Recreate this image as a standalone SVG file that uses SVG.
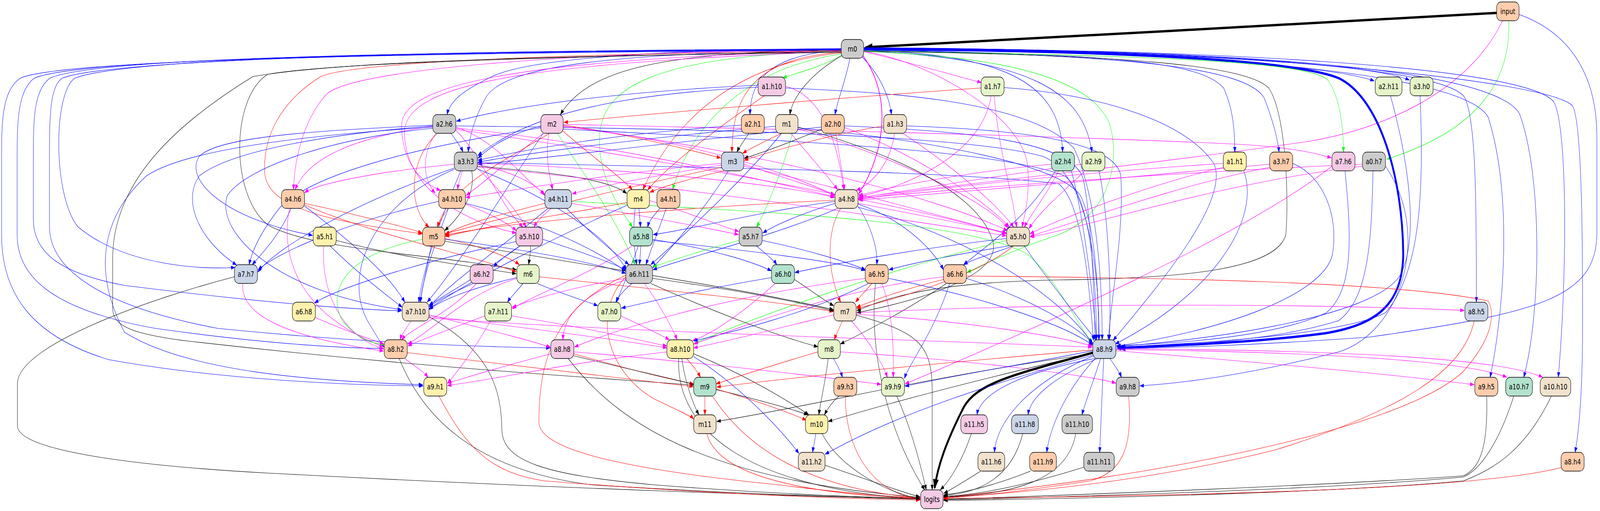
<svg xmlns="http://www.w3.org/2000/svg" width="5139" height="1307" viewBox="0 0 5139 1307" preserveAspectRatio="none">
<style>
:root{width:100vw;height:100vh;overflow:hidden}
.e path{fill:none;stroke-width:1.1}
.b{stroke:#00f;marker-end:url(#ab)}
.m{stroke:#f0f;marker-end:url(#am)}
.r{stroke:#f00;marker-end:url(#ar)}
.g{stroke:#0f0;marker-end:url(#ag)}
.k{stroke:#000;marker-end:url(#ak)}
.e path.kT{stroke:#000;stroke-width:6;marker-end:url(#akT)}
.e path.bT{stroke:#00f;stroke-width:6;marker-end:url(#abT)}
.e path.m2{stroke:#f0f;stroke-width:2.2;marker-end:url(#am)}
.n rect{stroke:#000;stroke-width:1.3}
.n text{font-family:"DejaVu Sans",sans-serif;font-size:18.67px;text-anchor:middle;fill:#000}
.c0{fill:#cccccc}.c1{fill:#f4cae4}.c2{fill:#fdcdac}.c3{fill:#f1e2cc}.c4{fill:#cbd5e8}.c5{fill:#e6f5c9}.c6{fill:#b3e2cd}.c7{fill:#fff2ae}
</style>
<defs>
<marker id="ab" viewBox="0 0 14 10" markerWidth="14" markerHeight="10" refX="13" refY="5" orient="auto" markerUnits="userSpaceOnUse"><path d="M0,0L14,5L0,10z" fill="#00f"/></marker>
<marker id="am" viewBox="0 0 14 10" markerWidth="14" markerHeight="10" refX="13" refY="5" orient="auto" markerUnits="userSpaceOnUse"><path d="M0,0L14,5L0,10z" fill="#f0f"/></marker>
<marker id="ar" viewBox="0 0 14 10" markerWidth="14" markerHeight="10" refX="13" refY="5" orient="auto" markerUnits="userSpaceOnUse"><path d="M0,0L14,5L0,10z" fill="#f00"/></marker>
<marker id="ag" viewBox="0 0 14 10" markerWidth="14" markerHeight="10" refX="13" refY="5" orient="auto" markerUnits="userSpaceOnUse"><path d="M0,0L14,5L0,10z" fill="#0f0"/></marker>
<marker id="ak" viewBox="0 0 14 10" markerWidth="14" markerHeight="10" refX="13" refY="5" orient="auto" markerUnits="userSpaceOnUse"><path d="M0,0L14,5L0,10z" fill="#000"/></marker>
<marker id="akT" viewBox="0 0 14 10" markerWidth="26" markerHeight="19" refX="12" refY="5" orient="auto" markerUnits="userSpaceOnUse"><path d="M0,0L14,5L0,10z" fill="#000"/></marker>
<marker id="abT" viewBox="0 0 14 10" markerWidth="26" markerHeight="19" refX="12" refY="5" orient="auto" markerUnits="userSpaceOnUse"><path d="M0,0L14,5L0,10z" fill="#00f"/></marker>
</defs>
<rect width="5139" height="1307" fill="#fff"/>
<g id="connectors" class="e">
<path class="kT" d="M4807,33 C4200,60 3400,95 2780,121"/>
<path class="g" d="M4846,53 C4852,200 4760,330 4454,407"/>
<path class="m" d="M4826,53 C4720,230 4450,330 4200,362 C3700,420 3100,470 2760,505"/>
<path class="b" d="M4879,37 C5030,80 5129,180 5129,350 L5129,600 C5125,760 4950,800 4400,862 C4000,885 3750,889 3588,892"/>
<path class="g" d="M2708,140 C2640,170 2570,185 2514,199"/>
<path class="m" d="M2774,132 C2900,155 3050,190 3152,211"/>
<path class="k" d="M2706,141 C2600,190 2545,250 2537,293"/>
<path class="b" d="M2703,128 C2480,140 2410,200 2409,293"/>
<path class="b" d="M2730,149 C2715,210 2690,255 2682,293"/>
<path class="b" d="M2768,145 C2825,190 2856,245 2863,293"/>
<path class="m2" d="M2772,143 C2860,240 2850,380 2758,496"/>
<path class="b" d="M2702,124 C2100,128 1680,150 1570,200 C1480,235 1445,260 1436,293"/>
<path class="k" d="M2702,128 C2200,135 1900,160 1800,293"/>
<path class="b" d="M2702,127 C2000,135 1620,165 1560,250 C1525,300 1507,350 1504,389"/>
<path class="r" d="M2703,133 C2450,150 2352,220 2351,389"/>
<path class="r" d="M2703,135 C2400,160 2180,280 2065,485"/>
<path class="g" d="M2704,138 C2420,170 2230,300 2160,485"/>
<path class="g" d="M2703,130 C2100,145 1925,220 1925,360 C1925,450 1985,530 2032,581"/>
<path class="m" d="M2702,126 C1800,134 1140,178 1050,240 C980,300 945,400 943,485"/>
<path class="m" d="M2702,129 C1800,150 1290,200 1290,320 C1290,420 1360,470 1415,487"/>
<path class="m" d="M2702,131 C1800,160 1320,200 1300,330 C1290,460 1450,560 1658,596"/>
<path class="r" d="M2702,130 C1500,140 1100,170 1030,196 C900,260 845,350 850,440 C855,540 1100,570 1357,598"/>
<path class="k" d="M2702,132 C1400,150 1000,170 860,190 C740,250 740,500 860,575 C1000,640 1400,650 1659,690"/>
<path class="k" d="M2702,134 C1400,145 1000,170 812,196 C600,300 362,450 362,660 L362,790 C362,835 430,855 600,872 C1400,945 2000,970 2227,985"/>
<path class="b" d="M2702,125 C1300,130 400,150 240,200 C170,240 170,500 250,580 C400,680 650,690 755,684"/>
<path class="b" d="M2702,126 C1300,132 300,148 160,200 C110,230 107,300 107,400 L107,560 C107,650 200,700 400,730 C800,770 1100,790 1290,795"/>
<path class="b" d="M2702,127 C1300,134 250,150 110,200 C60,230 55,300 55,400 L55,600 C55,700 150,790 500,840 C900,885 1150,891 1232,891"/>
<path class="b" d="M2702,128 C1300,136 200,152 65,200 C10,230 5,300 5,400 L5,600 C5,750 100,860 350,920 C700,970 1100,985 1359,987"/>
<path class="b" d="M2702,126 C1400,131 350,152 200,200 C160,220 159,300 159,400 L159,580 C159,680 300,780 700,840 C1200,880 1600,888 1767,890"/>
<path class="bT" d="M2776,126 C3500,128 4150,150 4300,200 C4430,250 4505,450 4507,650 C4505,780 4420,830 4260,852 C4000,880 3700,885 3592,890"/>
<path class="b" d="M2775,123 C3500,128 4250,160 4414,207"/>
<path class="b" d="M2775,122 C3700,126 4400,160 4527,205"/>
<path class="b" d="M2775,128 C3200,140 3405,200 3413,389"/>
<path class="b" d="M2775,130 C3300,150 3480,230 3507,389"/>
<path class="b" d="M2775,127 C3500,140 3850,150 3930,225 C3962,280 3966,340 3966,389"/>
<path class="b" d="M2775,128 C3600,140 4000,170 4060,250 C4095,320 4106,370 4108,389"/>
<path class="g" d="M2775,130 C3600,142 4200,152 4265,205 C4305,250 4315,330 4315,389"/>
<path class="b" d="M2775,124 C3800,130 4640,165 4705,250 C4740,310 4742,500 4742,773"/>
<path class="b" d="M2775,124 C3800,129 4700,180 4780,300 C4860,500 4830,800 4786,965"/>
<path class="b" d="M2775,123 C3800,127 4780,160 4880,290 C4955,450 4950,800 4894,965"/>
<path class="b" d="M2775,123 C3900,125 4900,170 4990,260 C5035,320 5034,700 5005,965"/>
<path class="b" d="M2775,122 C3900,123 4960,200 5050,270 C5085,310 5083,700 5083,850 C5082,1000 5072,1100 5059,1157"/>
<path class="k" d="M2775,131 C3600,140 4000,165 4075,225 C4130,290 4140,500 4130,600 C4100,690 3800,712 3400,716 C3000,722 2850,760 2752,795"/>
<path class="g" d="M2775,132 C3300,145 3520,220 3565,320 C3600,420 3560,550 3400,600 C3250,640 3150,680 3106,697"/>
<path class="m" d="M2774,131 C3000,160 3280,300 3300,420 C3310,500 3290,550 3283,581"/>
<path class="b" d="M2435,218 C2100,230 1700,260 1466,310"/>
<path class="b" d="M2435,223 C2000,240 1700,290 1535,398"/>
<path class="r" d="M2455,245 C2300,330 2150,420 2080,486"/>
<path class="m" d="M2523,221 C2600,235 2680,300 2710,485"/>
<path class="b" d="M2523,225 C2800,235 3300,250 3450,380 C3520,500 3540,700 3540,869"/>
<path class="r" d="M3151,225 C2700,250 2100,290 1811,313"/>
<path class="m" d="M3183,245 C3160,380 2950,470 2758,503"/>
<path class="m" d="M3193,245 C3210,400 3255,500 3265,581"/>
<path class="b" d="M3225,224 C3500,240 3800,300 3900,420 C3950,520 3700,750 3575,871"/>
<path class="b" d="M4466,245 C4520,400 4560,600 4500,700 C4420,820 3800,875 3587,886"/>
<path class="b" d="M4561,245 C4575,500 4560,700 4450,800 C4300,860 3800,880 3587,888"/>
<path class="b" d="M1449,341 C1465,360 1480,375 1487,389"/>
<path class="m" d="M1390,323 C1150,350 990,400 948,485"/>
<path class="m" d="M1400,341 C1350,400 1360,460 1398,494"/>
<path class="m" d="M1464,325 C1600,360 1680,460 1749,495"/>
<path class="m" d="M1464,328 C1900,360 2400,450 2680,503"/>
<path class="m" d="M1464,331 C2000,390 2900,520 3232,598"/>
<path class="r" d="M1405,341 C1300,420 1320,540 1378,581"/>
<path class="b" d="M1390,320 C1000,335 700,350 640,400 C590,460 720,560 1004,602"/>
<path class="b" d="M1390,322 C1100,340 750,380 640,450 C580,520 650,620 760,678"/>
<path class="b" d="M1390,325 C1000,345 600,380 470,450 C320,560 300,700 400,850 C600,950 1000,975 1358,984"/>
<path class="b" d="M1390,328 C1100,350 800,420 730,500 C690,600 900,750 1290,792"/>
<path class="m" d="M1464,333 C1550,400 1600,520 1680,581"/>
<path class="b" d="M1464,322 C2300,330 3100,345 3350,400 C3500,450 3530,700 3530,869"/>
<path class="b" d="M1737,322 C1650,340 1580,370 1535,405"/>
<path class="r" d="M1809,320 C2000,340 2200,380 2315,404"/>
<path class="m" d="M1745,341 C1650,400 1550,470 1497,500"/>
<path class="m" d="M1763,341 C1750,400 1765,450 1775,485"/>
<path class="r" d="M1808,335 C1900,400 1990,450 2031,485"/>
<path class="m" d="M1809,322 C2200,360 2500,430 2682,500"/>
<path class="m" d="M1809,324 C2400,380 3000,500 3236,590"/>
<path class="r" d="M1765,341 C1600,420 1440,480 1405,581"/>
<path class="g" d="M1790,341 C1880,450 1980,560 2040,677"/>
<path class="m" d="M1809,318 C2500,330 3500,350 4000,370 C4150,378 4230,392 4276,404"/>
<path class="b" d="M1737,327 C1300,380 1000,450 900,530 C840,590 810,640 800,677"/>
<path class="b" d="M1809,330 C2500,360 3200,380 3420,450 C3500,500 3520,700 3522,869"/>
<path class="b" d="M1745,341 C1650,450 1500,650 1372,773"/>
<path class="k" d="M2405,341 C2390,360 2375,375 2367,389"/>
<path class="b" d="M2381,320 C2000,340 1700,380 1535,410"/>
<path class="r" d="M2510,341 C2460,360 2410,380 2385,392"/>
<path class="b" d="M2491,323 C2100,350 1700,390 1535,415"/>
<path class="m" d="M2540,341 C2600,400 2660,450 2690,485"/>
<path class="m" d="M2563,330 C2800,380 3150,500 3238,583"/>
<path class="b" d="M2563,327 C3000,360 3400,420 3470,500 C3520,580 3528,750 3529,869"/>
<path class="k" d="M2563,325 C2900,400 3150,500 3190,620 C3210,700 3000,760 2752,800"/>
<path class="g" d="M2545,341 C2520,420 2460,540 2430,581"/>
<path class="b" d="M2510,341 C2400,450 2200,600 2090,677"/>
<path class="k" d="M2640,330 C2550,360 2450,390 2390,405"/>
<path class="b" d="M2638,325 C2200,360 1700,410 1535,420"/>
<path class="m" d="M2685,341 C2695,400 2708,450 2712,485"/>
<path class="m" d="M2712,326 C2900,380 3150,500 3242,581"/>
<path class="b" d="M2712,322 C3100,335 3450,360 3480,460 C3505,560 3515,750 3517,869"/>
<path class="r" d="M2838,322 C2700,340 2500,380 2390,410"/>
<path class="m" d="M2873,341 C2860,420 2800,470 2750,487"/>
<path class="m" d="M2900,341 C3050,420 3200,520 3256,581"/>
<path class="b" d="M2912,322 C3200,330 3580,350 3600,450 C3610,600 3570,750 3560,869"/>
<path class="m" d="M1459,420 C1200,440 1020,470 978,493"/>
<path class="m" d="M1485,437 C1478,455 1472,470 1470,485"/>
<path class="m" d="M1533,420 C1650,440 1720,470 1750,500"/>
<path class="k" d="M1533,425 C1750,440 1950,455 2013,495"/>
<path class="m" d="M1533,418 C2000,430 2500,470 2681,505"/>
<path class="m" d="M1533,427 C2100,470 2900,560 3232,603"/>
<path class="k" d="M1515,437 C1530,500 1470,560 1428,590"/>
<path class="m" d="M1533,430 C1600,480 1660,540 1690,581"/>
<path class="b" d="M1459,430 C1200,500 900,620 828,696"/>
<path class="b" d="M1480,437 C1420,550 1360,680 1345,773"/>
<path class="b" d="M1459,433 C1200,520 1100,700 1180,820 C1210,860 1225,880 1234,888"/>
<path class="b" d="M1533,432 C1750,500 1950,600 2012,690"/>
<path class="b" d="M1533,416 C2400,430 3100,440 3400,470 C3480,520 3500,750 3512,871"/>
<path class="m" d="M2317,418 C2000,440 1700,480 1496,505"/>
<path class="m" d="M2317,422 C2100,450 1900,480 1838,496"/>
<path class="r" d="M2325,437 C2200,460 2120,480 2087,492"/>
<path class="m" d="M2389,420 C2500,450 2620,480 2681,498"/>
<path class="m" d="M2389,425 C2700,480 3000,550 3233,596"/>
<path class="r" d="M2317,428 C2000,480 1600,560 1430,598"/>
<path class="b" d="M2340,437 C2250,550 2150,640 2096,685"/>
<path class="m" d="M3377,420 C3100,440 2850,480 2758,500"/>
<path class="m" d="M3400,437 C3360,500 3310,550 3290,581"/>
<path class="b" d="M3441,437 C3480,550 3510,750 3522,869"/>
<path class="b" d="M3390,437 C3300,560 3150,640 3095,677"/>
<path class="m" d="M3475,420 C3200,450 2900,490 2758,506"/>
<path class="m" d="M3485,437 C3400,500 3330,550 3305,585"/>
<path class="b" d="M3530,437 C3560,550 3570,750 3563,869"/>
<path class="m" d="M3929,418 C3500,440 3000,480 2758,510"/>
<path class="m" d="M3929,428 C3700,470 3400,560 3308,598"/>
<path class="b" d="M3995,437 C4050,560 3900,750 3582,880"/>
<path class="m" d="M4078,420 C3700,450 3100,490 2758,512"/>
<path class="m" d="M4078,428 C3800,470 3450,570 3309,604"/>
<path class="b" d="M4152,418 C4250,450 4300,550 4280,650 C4250,760 3900,850 3586,885"/>
<path class="b" d="M4320,437 C4340,600 4350,740 4260,800 C4100,860 3800,878 3587,884"/>
<path class="m" d="M4278,425 C4000,600 3300,850 2907,982"/>
<path class="m" d="M4376,420 C3800,440 3100,480 2758,508"/>
<path class="m" d="M4376,425 C3900,470 3500,580 3309,606"/>
<path class="b" d="M4410,437 C4405,600 4400,760 4300,820 C4100,870 3800,885 3587,887"/>
<path class="b" d="M4450,425 C4600,600 4500,850 4300,900 C4000,960 3800,980 3661,987"/>
<path class="r" d="M978,520 C1150,550 1300,580 1356,596"/>
<path class="b" d="M935,533 C900,600 840,650 810,677"/>
<path class="b" d="M978,527 C1100,600 1250,700 1300,773"/>
<path class="r" d="M978,524 C1200,600 1500,650 1658,695"/>
<path class="m" d="M930,533 C900,650 950,800 1232,887"/>
<path class="r" d="M1440,533 C1425,550 1412,565 1405,581"/>
<path class="m" d="M1495,522 C1570,545 1630,570 1658,590"/>
<path class="b" d="M1409,515 C1150,560 900,640 829,690"/>
<path class="b" d="M1440,533 C1400,620 1360,700 1350,773"/>
<path class="b" d="M1495,520 C1700,560 1900,630 2010,694"/>
<path class="m" d="M1770,533 C1745,550 1725,565 1715,581"/>
<path class="m" d="M1836,520 C2050,550 2250,580 2372,600"/>
<path class="r" d="M1750,520 C1600,550 1480,575 1430,600"/>
<path class="b" d="M1820,533 C1900,600 1980,650 2020,677"/>
<path class="b" d="M1760,533 C1600,640 1450,720 1378,785"/>
<path class="g" d="M1836,515 C2400,540 3100,560 3300,650 C3400,720 3450,820 3508,876"/>
<path class="b" d="M2052,533 C2054,550 2056,565 2057,581"/>
<path class="m" d="M2086,513 C2200,540 2320,580 2373,592"/>
<path class="r" d="M2014,518 C1800,550 1550,580 1430,605"/>
<path class="b" d="M2040,533 C2030,600 2040,650 2045,677"/>
<path class="b" d="M2014,525 C1800,600 1500,720 1378,790"/>
<path class="b" d="M2120,533 C2100,550 2085,565 2080,581"/>
<path class="b" d="M2140,533 C2110,600 2085,650 2075,677"/>
<path class="b" d="M2682,515 C2450,540 2200,590 2098,600"/>
<path class="b" d="M2682,520 C2600,540 2500,570 2450,596"/>
<path class="m" d="M2756,520 C2950,550 3150,580 3232,596"/>
<path class="r" d="M2682,512 C2200,530 1600,570 1430,602"/>
<path class="b" d="M2690,533 C2500,600 2200,660 2097,690"/>
<path class="b" d="M2756,527 C2800,580 2820,640 2816,677"/>
<path class="b" d="M2756,522 C2900,560 3000,640 3030,690"/>
<path class="r" d="M2700,533 C2650,600 2660,700 2700,773"/>
<path class="b" d="M2756,530 C3100,600 3400,750 3510,880"/>
<path class="k" d="M1080,615 C1300,660 1500,680 1658,700"/>
<path class="b" d="M1060,629 C1150,700 1250,760 1292,786"/>
<path class="m" d="M1040,629 C1030,750 1100,860 1232,893"/>
<path class="r" d="M1429,610 C1550,630 1640,660 1668,677"/>
<path class="b" d="M1429,612 C1700,640 1900,670 2010,699"/>
<path class="b" d="M1385,629 C1370,690 1355,740 1350,773"/>
<path class="g" d="M1357,612 C1100,650 1050,750 1100,820 C1150,870 1200,880 1236,880"/>
<path class="k" d="M1429,617 C1900,680 2400,740 2677,792"/>
<path class="b" d="M1670,629 C1630,650 1600,670 1585,683"/>
<path class="k" d="M1705,629 C1703,650 1700,665 1698,677"/>
<path class="b" d="M1743,612 C1850,640 1960,670 2010,690"/>
<path class="b" d="M1670,629 C1550,700 1420,760 1378,780"/>
<path class="b" d="M1657,618 C1400,660 1100,730 1010,775"/>
<path class="b" d="M2058,629 C2057,650 2055,665 2054,677"/>
<path class="b" d="M2096,612 C2300,640 2420,670 2478,693"/>
<path class="b" d="M2096,615 C2400,640 2700,670 2779,692"/>
<path class="m" d="M2030,629 C1900,700 1700,760 1645,790"/>
<path class="b" d="M2050,629 C2020,700 1990,750 1980,773"/>
<path class="g" d="M2374,615 C2250,640 2150,670 2097,682"/>
<path class="b" d="M2448,615 C2600,640 2720,670 2780,690"/>
<path class="b" d="M2430,629 C2460,650 2485,665 2495,677"/>
<path class="b" d="M3233,610 C2900,640 2650,680 2553,697"/>
<path class="b" d="M3240,629 C3000,660 2900,680 2855,690"/>
<path class="b" d="M3255,629 C3180,650 3120,665 3095,677"/>
<path class="r" d="M3255,629 C3150,700 2900,760 2752,789"/>
<path class="g" d="M3233,615 C2800,700 2400,820 2230,878"/>
<path class="b" d="M3290,629 C3350,700 3450,800 3520,869"/>
<path class="m" d="M780,725 C770,800 900,860 1232,898"/>
<path class="k" d="M753,708 C500,760 60,880 56,980 L56,1090 C60,1150 400,1190 860,1210 C1800,1250 2600,1270 2955,1276"/>
<path class="m" d="M1530,725 C1450,800 1320,840 1290,869"/>
<path class="b" d="M1520,725 C1450,750 1400,770 1378,785"/>
<path class="b" d="M1680,725 C1660,745 1640,760 1630,773"/>
<path class="b" d="M1660,710 C1550,730 1430,760 1378,792"/>
<path class="m" d="M1660,712 C1500,750 1380,850 1310,880"/>
<path class="r" d="M1732,708 C2100,740 2500,770 2677,797"/>
<path class="b" d="M1725,725 C1800,750 1880,770 1920,782"/>
<path class="m" d="M2010,712 C1800,740 1700,770 1645,786"/>
<path class="b" d="M2030,725 C2000,745 1985,760 1978,773"/>
<path class="m" d="M2070,725 C2120,780 2160,840 2175,869"/>
<path class="m" d="M2010,715 C1850,760 1810,820 1808,869"/>
<path class="r" d="M2010,708 C1900,800 1950,950 2100,1020 C2180,1050 2220,1065 2228,1072"/>
<path class="r" d="M2010,704 C1800,780 1730,900 1731,1080 C1731,1150 2000,1200 2500,1240 C2700,1260 2850,1270 2955,1274"/>
<path class="k" d="M2096,712 C2350,740 2550,770 2678,795"/>
<path class="k" d="M2090,725 C2300,800 2500,860 2627,887"/>
<path class="b" d="M2478,710 C2250,740 2100,770 1996,788"/>
<path class="k" d="M2552,715 C2600,740 2650,770 2678,782"/>
<path class="m" d="M2490,725 C2400,790 2300,850 2225,871"/>
<path class="r" d="M2800,725 C2780,745 2760,760 2748,773"/>
<path class="m" d="M2779,712 C2300,760 1950,850 1845,888"/>
<path class="b" d="M2790,725 C2600,800 2350,850 2228,872"/>
<path class="m" d="M2832,725 C2870,800 2870,900 2869,965"/>
<path class="k" d="M2812,725 C2790,900 2850,1100 2970,1253"/>
<path class="b" d="M2853,712 C3100,750 3400,820 3510,883"/>
<path class="r" d="M3030,715 C2900,740 2800,770 2751,786"/>
<path class="k" d="M3040,725 C2900,800 2750,860 2699,880"/>
<path class="m" d="M3030,708 C2700,740 2400,830 2228,880"/>
<path class="r" d="M3104,706 C3700,710 4500,720 4780,770 C4800,800 4800,860 4700,950 C4500,1100 3700,1220 3031,1272"/>
<path class="b" d="M3050,725 C3000,850 2920,930 2905,968"/>
<path class="b" d="M3104,712 C3300,760 3450,830 3510,878"/>
<path class="m" d="M1013,812 C1120,850 1200,870 1233,880"/>
<path class="m" d="M1320,821 C1305,840 1290,855 1285,869"/>
<path class="m" d="M1378,805 C1550,840 1700,870 1768,888"/>
<path class="m" d="M1378,808 C1700,840 2000,870 2142,890"/>
<path class="k" d="M1378,810 C1580,900 1610,1000 1612,1100 C1615,1180 1750,1215 2100,1240 C2500,1265 2800,1272 2955,1276"/>
<path class="m" d="M1378,813 C2000,850 3000,870 3508,888"/>
<path class="m" d="M1557,808 C1450,840 1350,870 1310,885"/>
<path class="m" d="M1643,808 C1900,840 2050,870 2142,885"/>
<path class="m" d="M1575,821 C1520,900 1460,960 1437,980"/>
<path class="m" d="M1994,808 C2080,840 2130,860 2150,869"/>
<path class="r" d="M2706,821 C2695,840 2685,855 2680,869"/>
<path class="m" d="M2678,805 C2500,840 2350,870 2228,890"/>
<path class="m" d="M2750,800 C3500,770 4300,780 4703,794"/>
<path class="m" d="M2735,821 C2800,880 2840,940 2850,965"/>
<path class="k" d="M2750,806 C2950,850 2994,880 2994,1000 L2994,1253"/>
<path class="m" d="M2750,804 C3100,820 3400,860 3508,885"/>
<path class="r" d="M4735,821 C4700,950 4500,1050 4100,1150 C3700,1230 3300,1260 3031,1273"/>
<path class="m" d="M1300,917 C1330,935 1360,950 1375,965"/>
<path class="k" d="M1282,917 C1350,1050 1500,1200 1900,1240 C2400,1265 2750,1272 2955,1277"/>
<path class="r" d="M1308,902 C1700,940 2050,970 2227,989"/>
<path class="m" d="M1769,905 C1600,940 1500,965 1437,980"/>
<path class="r" d="M1843,905 C2000,940 2150,970 2228,982"/>
<path class="k" d="M1825,917 C2000,1100 2300,1230 2955,1272"/>
<path class="k" d="M1843,910 C2100,960 2450,1020 2595,1061"/>
<path class="m" d="M1843,900 C2300,930 2700,970 2830,983"/>
<path class="r" d="M2205,917 C2225,935 2240,950 2250,965"/>
<path class="k" d="M2190,917 C2200,980 2230,1040 2245,1061"/>
<path class="k" d="M2180,917 C2170,1100 2400,1250 2955,1276"/>
<path class="m" d="M2142,900 C1800,930 1600,970 1437,986"/>
<path class="k" d="M2228,905 C2400,960 2540,1030 2598,1061"/>
<path class="b" d="M2228,912 C2400,1000 2530,1120 2566,1160"/>
<path class="b" d="M2677,917 C2690,935 2700,950 2706,965"/>
<path class="k" d="M2660,917 C2650,980 2635,1030 2630,1061"/>
<path class="r" d="M2627,900 C2500,930 2380,960 2300,982"/>
<path class="m" d="M2699,900 C3100,920 3500,960 3584,980"/>
<path class="kT" d="M3510,902 C3250,960 3130,980 3090,1050 C3040,1130 3012,1190 3002,1248"/>
<path class="b" d="M3565,917 C3580,935 3595,950 3602,965"/>
<path class="b" d="M3515,917 C3300,950 3150,1000 3138,1061"/>
<path class="b" d="M3525,917 C3400,960 3310,1010 3302,1061"/>
<path class="b" d="M3535,917 C3510,980 3485,1030 3475,1061"/>
<path class="b" d="M3512,910 C3300,980 3200,1080 3194,1157"/>
<path class="b" d="M3520,915 C3420,1000 3370,1100 3362,1157"/>
<path class="b" d="M3545,917 C3540,1000 3535,1100 3532,1157"/>
<path class="b" d="M3510,908 C3200,980 2900,1050 2650,1162"/>
<path class="r" d="M3510,895 C3000,930 2600,960 2302,990"/>
<path class="k" d="M3510,905 C3000,960 2600,1040 2302,1078"/>
<path class="k" d="M3510,903 C3200,960 2900,1020 2660,1078"/>
<path class="b" d="M3510,897 C3300,930 3000,970 2907,988"/>
<path class="m" d="M3584,897 C4100,930 4500,960 4735,984"/>
<path class="m" d="M3584,894 C4200,900 4700,920 4840,965"/>
<path class="m" d="M3584,892 C4200,895 4800,910 4955,965"/>
<path class="r" d="M1410,1013 C1500,1150 1580,1210 1750,1230 C2300,1265 2700,1275 2955,1279"/>
<path class="r" d="M2264,1013 L2264,1061"/>
<path class="r" d="M2288,1013 C2400,1150 2600,1250 2955,1274"/>
<path class="r" d="M2300,995 C2450,1030 2550,1060 2590,1075"/>
<path class="k" d="M2695,1013 C2670,1030 2655,1050 2648,1061"/>
<path class="r" d="M2715,1013 C2715,1150 2800,1260 2955,1277"/>
<path class="k" d="M2880,1013 C2930,1100 2960,1200 2975,1253"/>
<path class="r" d="M3625,1013 C3640,1150 3600,1210 3500,1230 C3300,1255 3150,1268 3031,1274"/>
<path class="k" d="M4775,1013 C4780,1150 4750,1200 4700,1217 C4300,1240 3500,1265 3031,1277"/>
<path class="k" d="M4862,1013 C4820,1120 4760,1200 4700,1220 C4300,1250 3500,1270 3031,1278"/>
<path class="k" d="M4983,1013 C4900,1150 4800,1200 4700,1230 C4300,1260 3500,1275 3031,1280"/>
<path class="r" d="M2270,1109 C2300,1200 2500,1260 2955,1276"/>
<path class="b" d="M2620,1109 C2617,1130 2612,1145 2610,1157"/>
<path class="k" d="M2640,1109 C2700,1200 2850,1260 2955,1276"/>
<path class="k" d="M3120,1109 C3090,1180 3050,1230 3020,1253"/>
<path class="k" d="M3285,1109 C3250,1220 3150,1260 3031,1268"/>
<path class="k" d="M3455,1109 C3430,1230 3250,1265 3031,1271"/>
<path class="k" d="M2650,1190 C2800,1230 2900,1260 2955,1271"/>
<path class="k" d="M3150,1205 C3100,1230 3060,1250 3031,1262"/>
<path class="k" d="M3310,1205 C3200,1240 3100,1260 3031,1266"/>
<path class="k" d="M3481,1195 C3300,1240 3150,1265 3031,1270"/>
<path class="r" d="M5014,1196 C4800,1240 4200,1265 3031,1275"/>
</g>
<g id="nodes" class="n">
<g id="n_input"><rect class="c2" x="4807" y="5" width="72" height="48" rx="14"/><text x="4843" y="36">input</text></g>
<g id="n_m0"><rect class="c0" x="2702" y="101" width="72" height="48" rx="14"/><text x="2738" y="132">m0</text></g>
<g id="n_a1_h10"><rect class="c1" x="2435" y="197" width="88" height="48" rx="14"/><text x="2479" y="228">a1.h10</text></g>
<g id="n_a1_h7"><rect class="c5" x="3151" y="197" width="74" height="48" rx="14"/><text x="3188" y="228">a1.h7</text></g>
<g id="n_a2_h11"><rect class="c5" x="4417" y="197" width="86" height="48" rx="14"/><text x="4460" y="228">a2.h11</text></g>
<g id="n_a3_h0"><rect class="c5" x="4529" y="197" width="74" height="48" rx="14"/><text x="4566" y="228">a3.h0</text></g>
<g id="n_a2_h6"><rect class="c0" x="1390" y="293" width="74" height="48" rx="14"/><text x="1427" y="324">a2.h6</text></g>
<g id="n_m2"><rect class="c1" x="1737" y="293" width="72" height="48" rx="14"/><text x="1773" y="324">m2</text></g>
<g id="n_a2_h1"><rect class="c2" x="2381" y="293" width="74" height="48" rx="14"/><text x="2418" y="324">a2.h1</text></g>
<g id="n_m1"><rect class="c3" x="2491" y="293" width="72" height="48" rx="14"/><text x="2527" y="324">m1</text></g>
<g id="n_a2_h0"><rect class="c2" x="2638" y="293" width="74" height="48" rx="14"/><text x="2675" y="324">a2.h0</text></g>
<g id="n_a1_h3"><rect class="c3" x="2838" y="293" width="74" height="48" rx="14"/><text x="2875" y="324">a1.h3</text></g>
<g id="n_a3_h3"><rect class="c0" x="1459" y="389" width="74" height="48" rx="14"/><text x="1496" y="420">a3.h3</text></g>
<g id="n_m3"><rect class="c4" x="2317" y="389" width="72" height="48" rx="14"/><text x="2353" y="420">m3</text></g>
<g id="n_a2_h4"><rect class="c6" x="3377" y="389" width="74" height="48" rx="14"/><text x="3414" y="420">a2.h4</text></g>
<g id="n_a2_h9"><rect class="c5" x="3475" y="389" width="74" height="48" rx="14"/><text x="3512" y="420">a2.h9</text></g>
<g id="n_a1_h1"><rect class="c7" x="3929" y="389" width="74" height="48" rx="14"/><text x="3966" y="420">a1.h1</text></g>
<g id="n_a3_h7"><rect class="c2" x="4078" y="389" width="74" height="48" rx="14"/><text x="4115" y="420">a3.h7</text></g>
<g id="n_a7_h6"><rect class="c1" x="4278" y="389" width="74" height="48" rx="14"/><text x="4315" y="420">a7.h6</text></g>
<g id="n_a0_h7"><rect class="c0" x="4376" y="389" width="74" height="48" rx="14"/><text x="4413" y="420">a0.h7</text></g>
<g id="n_a4_h6"><rect class="c2" x="904" y="485" width="74" height="48" rx="14"/><text x="941" y="516">a4.h6</text></g>
<g id="n_a4_h10"><rect class="c2" x="1409" y="485" width="86" height="48" rx="14"/><text x="1452" y="516">a4.h10</text></g>
<g id="n_a4_h11"><rect class="c4" x="1750" y="485" width="86" height="48" rx="14"/><text x="1793" y="516">a4.h11</text></g>
<g id="n_m4"><rect class="c7" x="2014" y="485" width="72" height="48" rx="14"/><text x="2050" y="516">m4</text></g>
<g id="n_a4_h1"><rect class="c2" x="2110" y="485" width="74" height="48" rx="14"/><text x="2147" y="516">a4.h1</text></g>
<g id="n_a4_h8"><rect class="c3" x="2682" y="485" width="74" height="48" rx="14"/><text x="2719" y="516">a4.h8</text></g>
<g id="n_a5_h1"><rect class="c7" x="1006" y="581" width="74" height="48" rx="14"/><text x="1043" y="612">a5.h1</text></g>
<g id="n_m5"><rect class="c2" x="1357" y="581" width="72" height="48" rx="14"/><text x="1393" y="612">m5</text></g>
<g id="n_a5_h10"><rect class="c1" x="1657" y="581" width="86" height="48" rx="14"/><text x="1700" y="612">a5.h10</text></g>
<g id="n_a5_h8"><rect class="c6" x="2022" y="581" width="74" height="48" rx="14"/><text x="2059" y="612">a5.h8</text></g>
<g id="n_a5_h7"><rect class="c0" x="2374" y="581" width="74" height="48" rx="14"/><text x="2411" y="612">a5.h7</text></g>
<g id="n_a5_h0"><rect class="c3" x="3233" y="581" width="74" height="48" rx="14"/><text x="3270" y="612">a5.h0</text></g>
<g id="n_a7_h7"><rect class="c4" x="753" y="677" width="74" height="48" rx="14"/><text x="790" y="708">a7.h7</text></g>
<g id="n_a6_h2"><rect class="c1" x="1510" y="677" width="74" height="48" rx="14"/><text x="1547" y="708">a6.h2</text></g>
<g id="n_m6"><rect class="c5" x="1660" y="677" width="72" height="48" rx="14"/><text x="1696" y="708">m6</text></g>
<g id="n_a6_h11"><rect class="c0" x="2010" y="677" width="86" height="48" rx="14"/><text x="2053" y="708">a6.h11</text></g>
<g id="n_a6_h0"><rect class="c6" x="2478" y="677" width="74" height="48" rx="14"/><text x="2515" y="708">a6.h0</text></g>
<g id="n_a6_h5"><rect class="c2" x="2779" y="677" width="74" height="48" rx="14"/><text x="2816" y="708">a6.h5</text></g>
<g id="n_a6_h6"><rect class="c2" x="3030" y="677" width="74" height="48" rx="14"/><text x="3067" y="708">a6.h6</text></g>
<g id="n_a6_h8"><rect class="c7" x="939" y="773" width="74" height="48" rx="14"/><text x="976" y="804">a6.h8</text></g>
<g id="n_a7_h10"><rect class="c3" x="1292" y="773" width="86" height="48" rx="14"/><text x="1335" y="804">a7.h10</text></g>
<g id="n_a7_h11"><rect class="c5" x="1557" y="773" width="86" height="48" rx="14"/><text x="1600" y="804">a7.h11</text></g>
<g id="n_a7_h0"><rect class="c5" x="1920" y="773" width="74" height="48" rx="14"/><text x="1957" y="804">a7.h0</text></g>
<g id="n_m7"><rect class="c3" x="2678" y="773" width="72" height="48" rx="14"/><text x="2714" y="804">m7</text></g>
<g id="n_a8_h5"><rect class="c4" x="4705" y="773" width="74" height="48" rx="14"/><text x="4742" y="804">a8.h5</text></g>
<g id="n_a8_h2"><rect class="c2" x="1234" y="869" width="74" height="48" rx="14"/><text x="1271" y="900">a8.h2</text></g>
<g id="n_a8_h8"><rect class="c1" x="1769" y="869" width="74" height="48" rx="14"/><text x="1806" y="900">a8.h8</text></g>
<g id="n_a8_h10"><rect class="c7" x="2142" y="869" width="86" height="48" rx="14"/><text x="2185" y="900">a8.h10</text></g>
<g id="n_m8"><rect class="c5" x="2627" y="869" width="72" height="48" rx="14"/><text x="2663" y="900">m8</text></g>
<g id="n_a8_h9"><rect class="c4" x="3510" y="869" width="74" height="48" rx="14"/><text x="3547" y="900">a8.h9</text></g>
<g id="n_a9_h1"><rect class="c7" x="1361" y="965" width="74" height="48" rx="14"/><text x="1398" y="996">a9.h1</text></g>
<g id="n_m9"><rect class="c6" x="2228" y="965" width="72" height="48" rx="14"/><text x="2264" y="996">m9</text></g>
<g id="n_a9_h3"><rect class="c2" x="2678" y="965" width="74" height="48" rx="14"/><text x="2715" y="996">a9.h3</text></g>
<g id="n_a9_h9"><rect class="c5" x="2831" y="965" width="74" height="48" rx="14"/><text x="2868" y="996">a9.h9</text></g>
<g id="n_a9_h8"><rect class="c0" x="3585" y="965" width="74" height="48" rx="14"/><text x="3622" y="996">a9.h8</text></g>
<g id="n_a9_h5"><rect class="c2" x="4737" y="965" width="74" height="48" rx="14"/><text x="4774" y="996">a9.h5</text></g>
<g id="n_a10_h7"><rect class="c6" x="4836" y="965" width="86" height="48" rx="14"/><text x="4879" y="996">a10.h7</text></g>
<g id="n_a10_h10"><rect class="c3" x="4947" y="965" width="98" height="48" rx="14"/><text x="4996" y="996">a10.h10</text></g>
<g id="n_m11"><rect class="c3" x="2228" y="1061" width="72" height="48" rx="14"/><text x="2264" y="1092">m11</text></g>
<g id="n_m10"><rect class="c7" x="2587" y="1061" width="72" height="48" rx="14"/><text x="2623" y="1092">m10</text></g>
<g id="n_a11_h5"><rect class="c1" x="3086" y="1061" width="86" height="48" rx="14"/><text x="3129" y="1092">a11.h5</text></g>
<g id="n_a11_h8"><rect class="c4" x="3249" y="1061" width="86" height="48" rx="14"/><text x="3292" y="1092">a11.h8</text></g>
<g id="n_a11_h10"><rect class="c0" x="3411" y="1061" width="98" height="48" rx="14"/><text x="3460" y="1092">a11.h10</text></g>
<g id="n_a11_h2"><rect class="c3" x="2564" y="1157" width="86" height="48" rx="14"/><text x="2607" y="1188">a11.h2</text></g>
<g id="n_a11_h6"><rect class="c3" x="3141" y="1157" width="86" height="48" rx="14"/><text x="3184" y="1188">a11.h6</text></g>
<g id="n_a11_h9"><rect class="c2" x="3307" y="1157" width="86" height="48" rx="14"/><text x="3350" y="1188">a11.h9</text></g>
<g id="n_a11_h11"><rect class="c0" x="3481" y="1157" width="98" height="48" rx="14"/><text x="3530" y="1188">a11.h11</text></g>
<g id="n_a8_h4"><rect class="c2" x="5014" y="1157" width="74" height="48" rx="14"/><text x="5051" y="1188">a8.h4</text></g>
<g id="n_logits"><rect class="c1" x="2957" y="1253" width="72" height="48" rx="14"/><text x="2993" y="1284">logits</text></g>
</g>
</svg>
